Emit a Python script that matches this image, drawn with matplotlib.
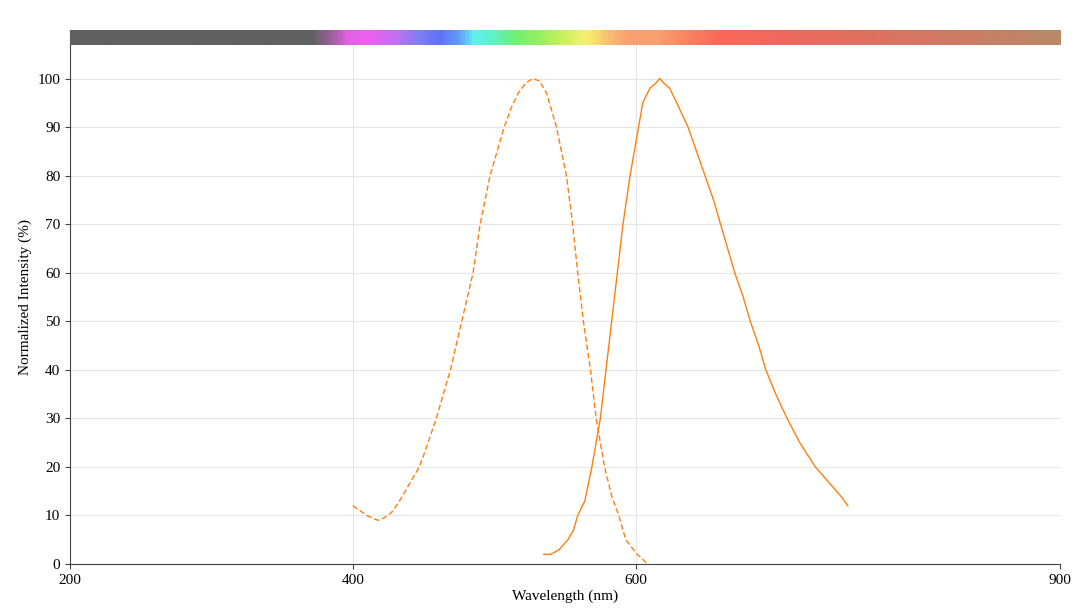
import matplotlib
matplotlib.use("Agg")
import matplotlib.pyplot as plt
import numpy as np
from matplotlib.colors import LinearSegmentedColormap

plt.rcParams["font.family"] = "Liberation Serif"

ex_wl = [400,405,410,415,418,422,427,432,437,442,447,452,459,465,469,473,477,481,485,490,497,502,507,512,517,522,527,532,537,544,551,555,559,563,568,572,578,583,588,593,597,601,605,608]
ex_val = [12,11,10,9.3,9,9.5,10.5,12.5,15,17.5,20,24,30,36,40,45,50,55,60,70,80,85,90,94,97,99,100,99.5,97,90,80,71,60,50,40,30,20,14,10,5,3.5,2,1,0]
em_wl = [535,540,546,552,556,559,564,569,575,579,583,587,591,596,602,605,610,614,617,620,624,629,637,643,649,655,660,665,670,676,681,687,692,699,707,716,727,736,745,750]
em_val = [2,2,3,5,7,10,13,20,30,40,50,60,70,80,90,95,98,99,100,99,98,95,90,85,80,75,70,65,60,55,50,45,40,35,30,25,20,17,14,12]

bar_wl = [200,370,385,395,410,430,445,460,475,485,500,515,535,550,565,580,595,615,640,660,700,760,900]
bar_col = ["#606060","#606060","#a060a0","#e060e0","#f060f0","#c070f0","#8080f0","#6070f8","#60a0f8","#60f0f0","#60f0c0","#70f070","#a0f060","#d0f060","#f8f070","#f8c070","#f8a070","#f8a070","#f88060","#f86858","#f06860","#e07060","#b88868"]

fig = plt.figure(figsize=(10.8, 6.14), dpi=100)
ax = fig.add_axes([0.0648, 0.0814, 0.9167, 0.8697])
ax.set_xlim(200, 900)
ax.set_ylim(0, 110)

pos = [(w - 200) / 700 for w in bar_wl]
cmap = LinearSegmentedColormap.from_list("spec", list(zip(pos, bar_col)))
grad = np.linspace(0, 1, 700).reshape(1, -1)
ax.imshow(grad, cmap=cmap, extent=[200, 900, 107, 110], aspect="auto", zorder=3)

ax.plot(ex_wl, ex_val, color="#ff7f0e", lw=1, ls=(0, (4, 2)))
ax.plot(em_wl, em_val, color="#ff7f0e", lw=1)

ax.set_yticks(range(0, 101, 10))
ax.set_xticks([200, 400, 600, 900])
ax.grid(True, color="#e6e6e6", lw=0.8)
ax.set_axisbelow(True)
for s in ["top", "right"]:
    ax.spines[s].set_visible(False)
for s in ["left", "bottom"]:
    ax.spines[s].set_color("#444444")
ax.tick_params(labelsize=11, color="#444444")
ax.set_xlabel("Wavelength (nm)", fontsize=11, labelpad=2)
ax.set_ylabel("Normalized Intensity (%)", fontsize=11)
fig.savefig("out.png", dpi=100)
